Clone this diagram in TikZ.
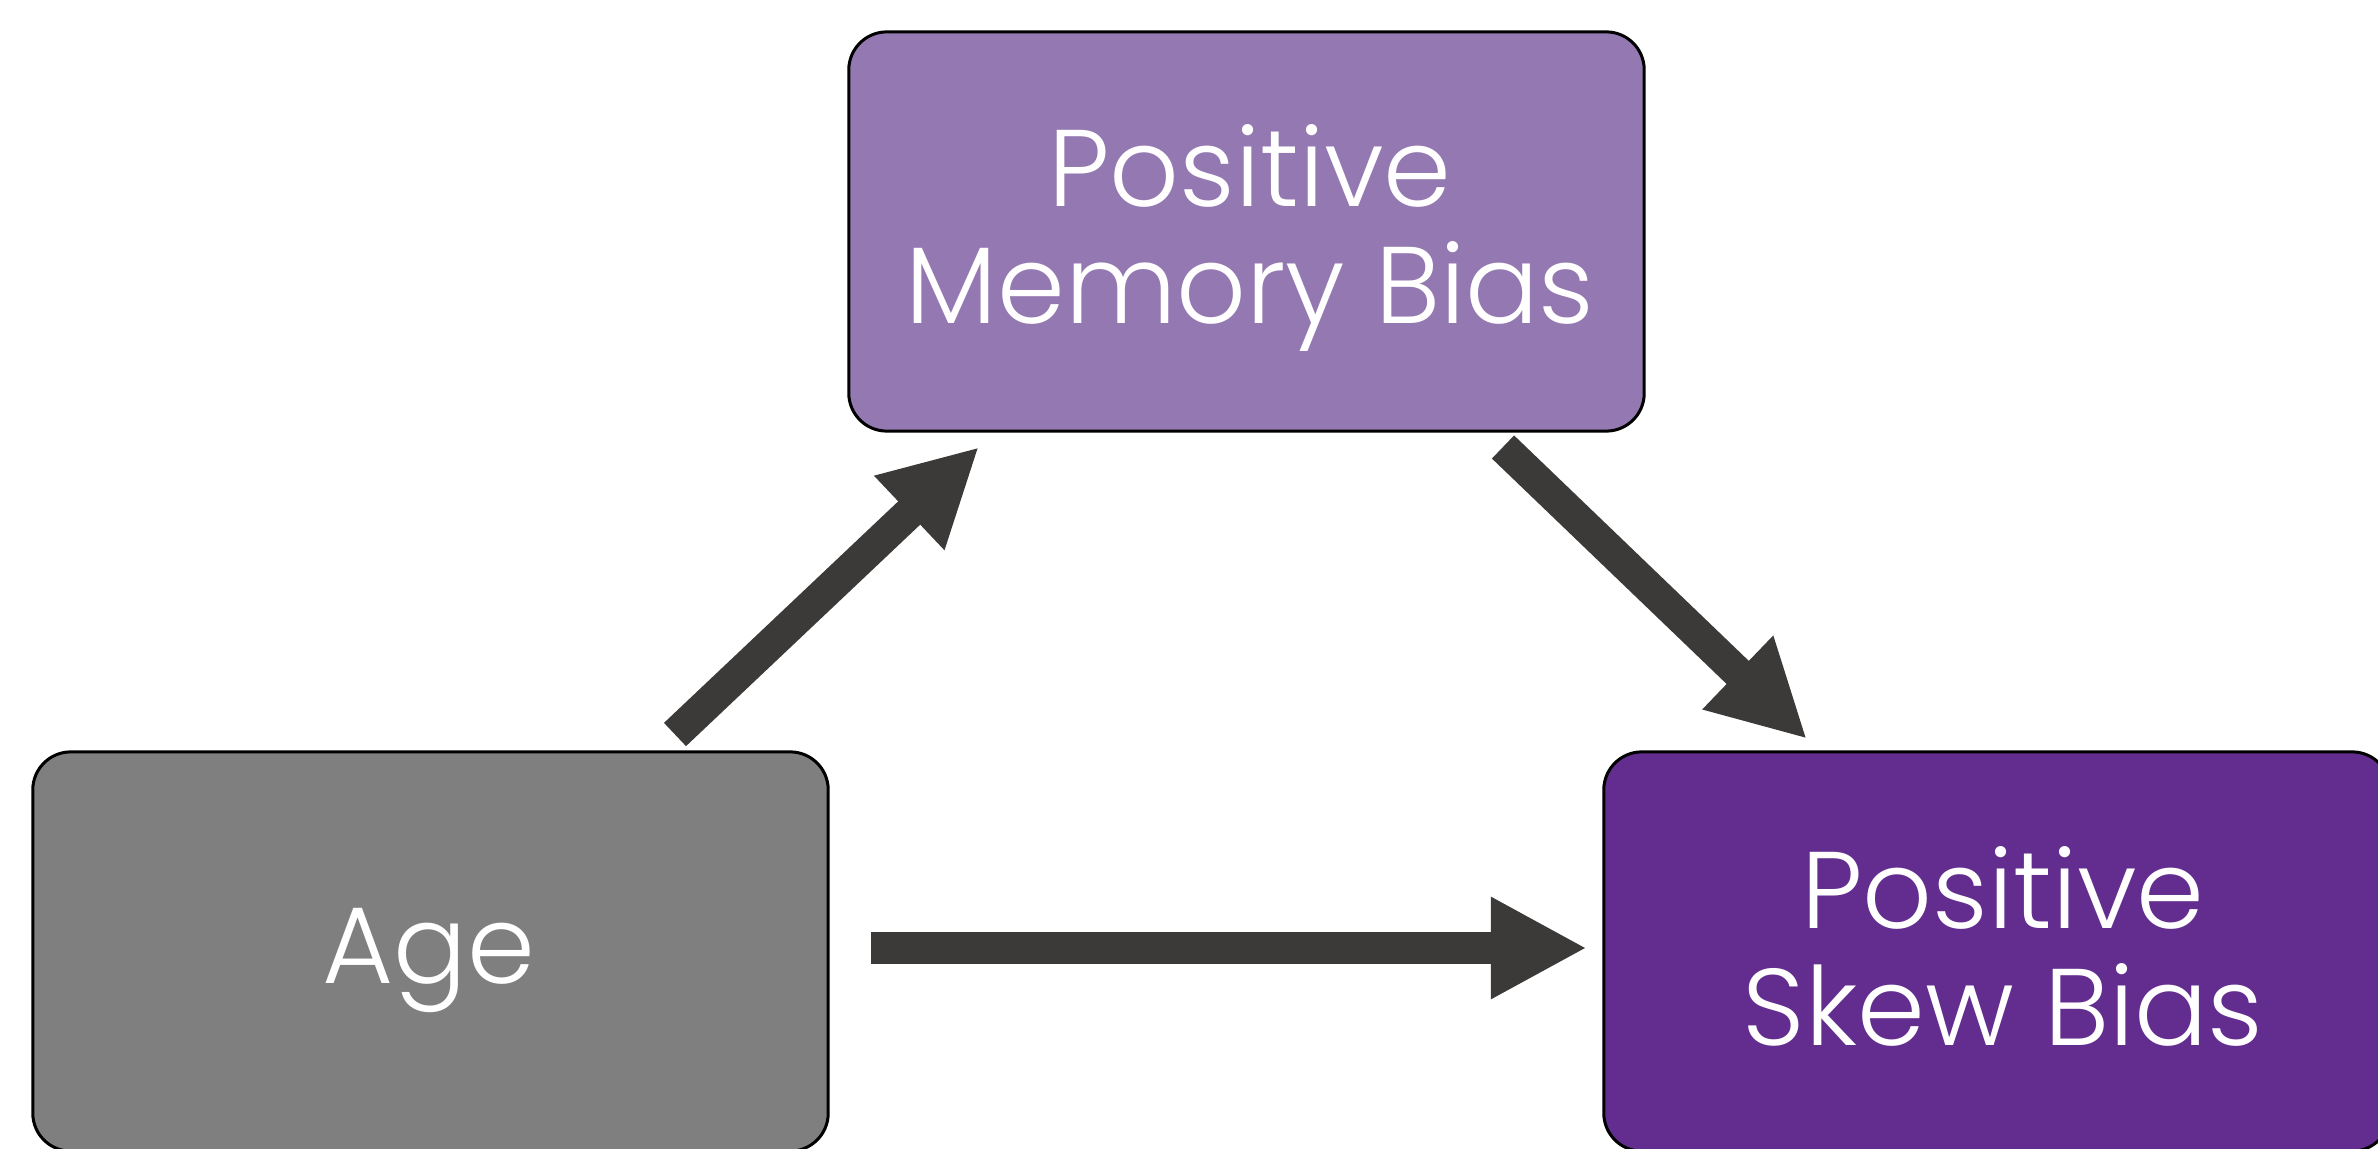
\documentclass[tikz,border=0pt]{standalone}
\usepackage{fontspec}
\setmainfont{Poppins}[UprightFont={* Light}]
\usetikzlibrary{arrows.meta}
\definecolor{memcol}{HTML}{9378B1}
\definecolor{skewcol}{HTML}{622D8E}
\definecolor{agecol}{HTML}{7F7F7F}
\definecolor{arrcol}{HTML}{3B3A38}
\tikzset{
  boxnode/.style={draw=black, line width=0.03cm, rounded corners=0.38cm,
    minimum width=7.95cm, minimum height=3.99cm, inner sep=0pt, anchor=center},
  labeltext/.style={text=white, align=center, inner sep=0pt,
    font=\fontsize{31}{33.3}\selectfont},
  bigarrow/.style={draw=arrcol, line width=0.32cm, line cap=butt,
    -{Triangle[width=0.95cm,length=0.96cm]}}
}
\begin{document}
\begin{tikzpicture}[x=0.01cm,y=-0.01cm]
\useasboundingbox (0,0) rectangle (2378,1149);
\clip (0,0) rectangle (2378,1149);
\fill[white] (0,0) rectangle (2378,1149);
% boxes
\node[boxnode, fill=memcol] (mem) at (1246.5,231.5) {};
\node[boxnode, fill=agecol] (age) at (430.5,951.5) {};
\node[boxnode, fill=skewcol, minimum width=7.86cm] (skew) at (1997,951.5) {};
% texts
\node[labeltext] (memtxt) at (1250,238) {Positive\\Memory Bias};
\node[labeltext, anchor=base] (agetxt) at (429,983) {Age};
\node[labeltext] (skewtxt) at (2003,946) {Positive\\Skew Bias};
% connector ends
\coordinate (a1s) at (675,734.5);
\coordinate (a1e) at (979,447);
\coordinate (a2s) at (1503,447);
\coordinate (a2e) at (1807,739);
\coordinate (a3s) at (871,948);
\coordinate (a3e) at (1587,948);
\draw[bigarrow] (a1s) -- (a1e);
\draw[bigarrow] (a2s) -- (a2e);
\draw[bigarrow] (a3s) -- (a3e);
\end{tikzpicture}
\end{document}
